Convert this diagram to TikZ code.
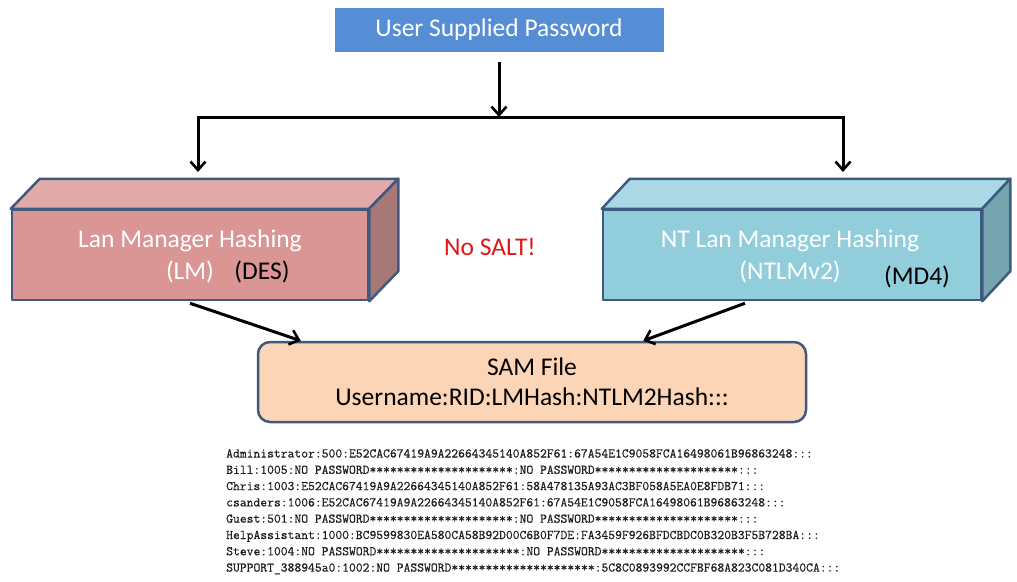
\documentclass[tikz,border=0pt]{standalone}
\usepackage{fontspec}
\setmainfont{Carlito}
\newfontfamily\listfont{Latin Modern Mono}[FakeBold=0.5]
\usetikzlibrary{arrows.meta}
\definecolor{pwblue}{RGB}{85,142,213}
\definecolor{edgeblue}{RGB}{62,90,128}
\definecolor{lmfront}{RGB}{217,150,148}
\definecolor{lmtop}{RGB}{224,171,169}
\definecolor{lmside}{RGB}{168,120,118}
\definecolor{ntfront}{RGB}{146,205,220}
\definecolor{nttop}{RGB}{170,216,228}
\definecolor{ntside}{RGB}{118,165,176}
\definecolor{samfill}{RGB}{251,213,181}
\definecolor{saltred}{RGB}{222,24,24}
\definecolor{listgray}{RGB}{30,30,30}
\begin{document}
\begin{tikzpicture}[x=1pt,y=-1pt,
  face/.style={draw=edgeblue, line width=2.5pt, line join=round},
  frontbox/.style={face, rectangle, inner sep=0pt},
  big/.style={font=\fontsize{25.5}{30}\selectfont},
  wlbl/.style={big, text=white, inner sep=0pt},
  blbl/.style={big, text=black, inner sep=0pt},
  conn/.style={line width=3pt, line join=miter, -{Straight Barb[length=8.5pt,width=15pt,line width=2.6pt]}}
]
\useasboundingbox (0,0) rectangle (1017,581);

% top box
\node[fill=pwblue, minimum width=329pt, minimum height=44pt, inner sep=0pt,
      big, text=white] (pw) at (499,30) {User Supplied Password};

\coordinate (split) at (499,117);
\coordinate (lsplit) at (198,117);
\coordinate (rsplit) at (843,117);
\coordinate (ltip) at (198,172);
\coordinate (rtip) at (843,172);

\draw[conn] ([yshift=-10pt]pw.south) -- (split);
\draw[conn] (split) -- (lsplit) -- (ltip);
\draw[conn] (split) -- (rsplit) -- (rtip);

% left 3D box
\node[frontbox, fill=lmfront, minimum width=356pt, minimum height=90pt] (lm) at (190,255) {};
\filldraw[face, fill=lmtop] (lm.north west) -- ++(29,-30) -- ([shift={(29,-30)}]lm.north east) -- (lm.north east) -- cycle;
\filldraw[face, fill=lmside] (lm.north east) -- ++(29,-30) -- ([shift={(29,-30)}]lm.south east) -- (lm.south east) -- cycle;
\node[wlbl] (lmt1) at (190,241) {Lan Manager Hashing};
\node[wlbl] (lmt2) at (190,272) {(LM)};
\node[blbl] (lmt3) at (262,272) {(DES)};

% right 3D box
\node[frontbox, fill=ntfront, minimum width=378pt, minimum height=90pt] (nt) at (792,255) {};
\filldraw[face, fill=nttop] (nt.north west) -- ++(28,-30) -- ([shift={(28,-30)}]nt.north east) -- (nt.north east) -- cycle;
\filldraw[face, fill=ntside] (nt.north east) -- ++(28,-30) -- ([shift={(28,-30)}]nt.south east) -- (nt.south east) -- cycle;
\node[wlbl] (ntt1) at (790,241) {NT Lan Manager Hashing};
\node[wlbl] (ntt2) at (790,272) {(NTLMv2)};
\node[blbl] (ntt3) at (917,277) {(MD4)};

% no salt
\node[big, text=saltred, inner sep=0pt] (salt) at (490,247) {No SALT!};

% SAM box
\node[draw=edgeblue, line width=2.5pt, fill=samfill, rounded corners=12pt,
      minimum width=548pt, minimum height=80pt, inner sep=0pt,
      font=\fontsize{25.5}{30}\selectfont, align=center] (sam) at (532,382)
      {SAM File\\Username:RID:LMHash:NTLM2Hash:::};

\draw[conn] ([yshift=-2pt]lm.south) -- ([xshift=44pt]sam.north west);
\draw[conn] ([xshift=-47pt,yshift=-2pt]nt.south) -- ([xshift=-164pt]sam.north east);

% listing
\node[anchor=north west, inner sep=0pt, align=left, text=listgray,
      font=\listfont\fontsize{13.25}{16.3}\selectfont] (list) at (226,449)
{Administrator:500:E52CAC67419A9A22664345140A852F61:67A54E1C9058FCA16498061B96863248:::\\
Bill:1005:NO PASSWORD*********************:NO PASSWORD*********************:::\\
Chris:1003:E52CAC67419A9A22664345140A852F61:58A478135A93AC3BF058A5EA0E8FDB71:::\\
csanders:1006:E52CAC67419A9A22664345140A852F61:67A54E1C9058FCA16498061B96863248:::\\
Guest:501:NO PASSWORD*********************:NO PASSWORD*********************:::\\
HelpAssistant:1000:BC9599830EA580CA58B92D00C6B0F7DE:FA3459F926BFDCBDC0B320B3F5B728BA:::\\
Steve:1004:NO PASSWORD*********************:NO PASSWORD*********************:::\\
SUPPORT\_388945a0:1002:NO PASSWORD*********************:5C8C0893992CCFBF68A823C081D340CA:::};
\end{tikzpicture}
\end{document}
